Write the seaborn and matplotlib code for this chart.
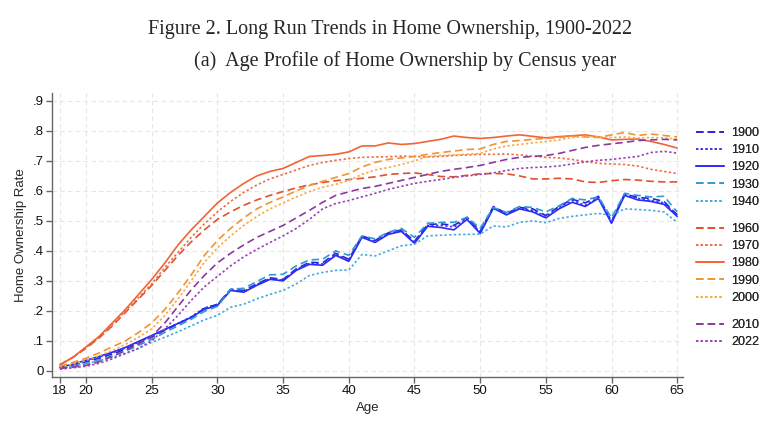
import pandas as pd
import matplotlib
matplotlib.use("Agg")
import matplotlib.pyplot as plt
from matplotlib.lines import Line2D
import seaborn as sns

# Data: home ownership rate by age, one list per census year
ages = list(range(18, 66))

r1900 = [.008, .018, .030, .042, .056, .072, .092, .112, .135, .156, .178, .208, .222, .272, .268, .290,
         .310, .305, .340, .362, .360, .392, .372, .450, .435, .460, .470, .432, .488, .490, .485, .512,
         .465, .548, .525, .545, .540, .518, .548, .572, .560, .582, .498, .590, .578, .575, .565, .520]
r1910 = [.010, .020, .033, .046, .060, .076, .096, .116, .137, .158, .180, .210, .220, .270, .265, .288,
         .308, .302, .338, .358, .356, .388, .370, .448, .432, .458, .468, .428, .485, .485, .480, .508,
         .462, .545, .522, .542, .535, .515, .545, .568, .552, .578, .495, .588, .575, .568, .560, .518]
r1920 = [.012, .022, .035, .048, .062, .078, .098, .118, .138, .158, .178, .205, .218, .268, .262, .285,
         .305, .300, .335, .355, .352, .385, .365, .445, .428, .455, .465, .425, .482, .478, .470, .505,
         .458, .542, .520, .540, .530, .510, .540, .562, .548, .575, .492, .585, .570, .565, .555, .515]
r1930 = [.008, .015, .025, .036, .050, .066, .085, .105, .128, .150, .172, .198, .215, .272, .275, .298,
         .320, .322, .350, .370, .372, .400, .385, .450, .440, .462, .475, .445, .492, .495, .495, .512,
         .475, .545, .528, .548, .545, .530, .550, .575, .570, .580, .510, .592, .585, .580, .582, .530]
r1940 = [.008, .015, .024, .033, .045, .058, .075, .095, .112, .130, .150, .170, .185, .212, .222, .240,
         .255, .268, .290, .318, .328, .335, .336, .388, .383, .400, .417, .422, .450, .452, .454, .455,
         .456, .483, .480, .495, .500, .494, .508, .515, .520, .525, .518, .540, .538, .535, .530, .495]
r1960 = [.020, .045, .075, .110, .150, .195, .240, .285, .335, .385, .430, .470, .505, .530, .552, .570,
         .585, .598, .610, .620, .628, .634, .638, .642, .647, .655, .658, .660, .655, .648, .647, .652,
         .657, .658, .657, .650, .640, .640, .642, .640, .630, .628, .634, .638, .636, .632, .630, .630]
r1970 = [.020, .045, .078, .112, .155, .200, .245, .290, .345, .395, .445, .490, .530, .565, .595, .620,
         .640, .655, .670, .685, .695, .702, .708, .712, .713, .714, .716, .715, .713, .715, .718, .720,
         .722, .722, .723, .720, .716, .712, .710, .705, .698, .692, .690, .688, .683, .672, .665, .658]
r1980 = [.020, .045, .080, .115, .160, .205, .255, .305, .360, .420, .470, .515, .560, .595, .625, .650,
         .665, .675, .695, .715, .718, .722, .730, .750, .750, .760, .755, .758, .765, .772, .783, .778,
         .775, .778, .783, .787, .782, .777, .781, .784, .787, .780, .770, .772, .773, .765, .755, .743]
r1990 = [.015, .028, .042, .060, .080, .100, .128, .160, .205, .260, .320, .385, .435, .475, .510, .540,
         .562, .580, .600, .618, .632, .645, .658, .680, .695, .705, .710, .715, .722, .728, .733, .738,
         .740, .755, .765, .768, .772, .775, .778, .783, .780, .778, .787, .795, .785, .790, .785, .780]
r2000 = [.012, .022, .035, .050, .068, .088, .112, .140, .185, .240, .300, .362, .410, .450, .485, .515,
         .540, .560, .580, .598, .612, .622, .635, .655, .670, .678, .688, .700, .715, .718, .720, .722,
         .725, .740, .750, .755, .760, .765, .770, .778, .782, .780, .778, .780, .776, .778, .777, .773]
r2010 = [.008, .012, .018, .030, .048, .068, .090, .115, .160, .215, .270, .318, .360, .392, .420, .445,
         .465, .485, .510, .535, .562, .585, .597, .608, .615, .625, .635, .645, .655, .665, .672, .678,
         .685, .695, .705, .712, .715, .718, .725, .735, .745, .752, .757, .762, .768, .770, .772, .770]
r2022 = [.005, .010, .015, .025, .040, .058, .075, .100, .140, .185, .235, .280, .315, .350, .380, .405,
         .428, .450, .475, .505, .540, .558, .568, .580, .592, .605, .615, .625, .632, .638, .645, .650,
         .655, .660, .668, .675, .678, .680, .683, .690, .697, .702, .705, .710, .715, .728, .732, .726]

years = ["1900", "1910", "1920", "1930", "1940", "1960", "1970", "1980", "1990", "2000", "2010", "2022"]
series = [r1900, r1910, r1920, r1930, r1940, r1960, r1970, r1980, r1990, r2000, r2010, r2022]

colors = ["#2626d0", "#3a3ad8", "#2a2aff", "#2e9ad4", "#44aadf",
          "#e2502c", "#ee6c48", "#f26434", "#f39232", "#f7aa45",
          "#8a3a9e", "#9a44b2"]
dashed = (4.5, 2.5)
dotted = (1.4, 1.4)
styles = [dashed, dotted, None, dashed, dotted,
          dashed, dotted, None, dashed, dotted,
          dashed, dotted]

df = pd.DataFrame({"Age": ages * len(years),
                   "Rate": [v for s in series for v in s],
                   "Year": [y for y in years for _ in ages]})

sns.set_style("white")
plt.rcParams["font.family"] = ["Liberation Sans", "DejaVu Sans"]

fig = plt.figure(figsize=(7.83, 4.28), dpi=100)
ax = fig.add_axes([0.0664, 0.119, 0.806, 0.664])

handles = []
for yr, col, st in zip(years, colors, styles):
    sub = df[df["Year"] == yr]
    sns.lineplot(data=sub, x="Age", y="Rate", color=col, linewidth=1.2, ax=ax, legend=False)
    line = ax.lines[-1]
    if st is not None:
        line.set_dashes(st)
    h = Line2D([], [], color=col, linewidth=1.2)
    if st is not None:
        h.set_dashes(st)
    handles.append(h)

ax.set_xlim(17.4, 65.45)
ax.set_ylim(-0.021, 0.927)
ax.set_xticks([18, 20, 25, 30, 35, 40, 45, 50, 55, 60, 65])
yt = [0, .1, .2, .3, .4, .5, .6, .7, .8, .9]
ax.set_yticks(yt)
ax.set_yticklabels(["0"] + ["." + str(i) for i in range(1, 10)])
ax.grid(True, color="#e6e6e6", linestyle=(0, (4, 3)), linewidth=0.8)
ax.set_axisbelow(True)
for s in ["top", "right"]:
    ax.spines[s].set_visible(False)
for s in ["left", "bottom"]:
    ax.spines[s].set_color("#666666")
    ax.spines[s].set_linewidth(1.0)
ax.tick_params(axis="both", which="both", direction="out", length=4, width=1, color="#666666",
               labelsize=9.5, labelcolor="#111111", pad=2, left=True, bottom=True)
ax.set_xlabel("Age", fontsize=9.5, labelpad=3)
ax.set_ylabel("Home Ownership Rate", fontsize=9.5, labelpad=4)

fig.text(0.498, 0.932, "Figure 2. Long Run Trends in Home Ownership, 1900-2022",
         family="Liberation Serif", fontsize=14.5, ha="center", va="center")
fig.text(0.517, 0.857, "(a)  Age Profile of Home Ownership by Census year",
         family="Liberation Serif", fontsize=14.5, ha="center", va="center")

# legend in three groups like the original
groups = [(0, 5, 131), (5, 10, 227), (10, 12, 323)]
for a, b, ytop in groups:
    leg = fig.legend(handles[a:b], years[a:b], loc="upper left",
                     bbox_to_anchor=(696 / 783, 1 - (ytop - 4) / 428),
                     frameon=False, fontsize=9, handlelength=2.25, handletextpad=0.55,
                     labelspacing=0.42, borderaxespad=0, borderpad=0)
    fig.add_artist(leg)

fig.savefig("out.png", dpi=100)
